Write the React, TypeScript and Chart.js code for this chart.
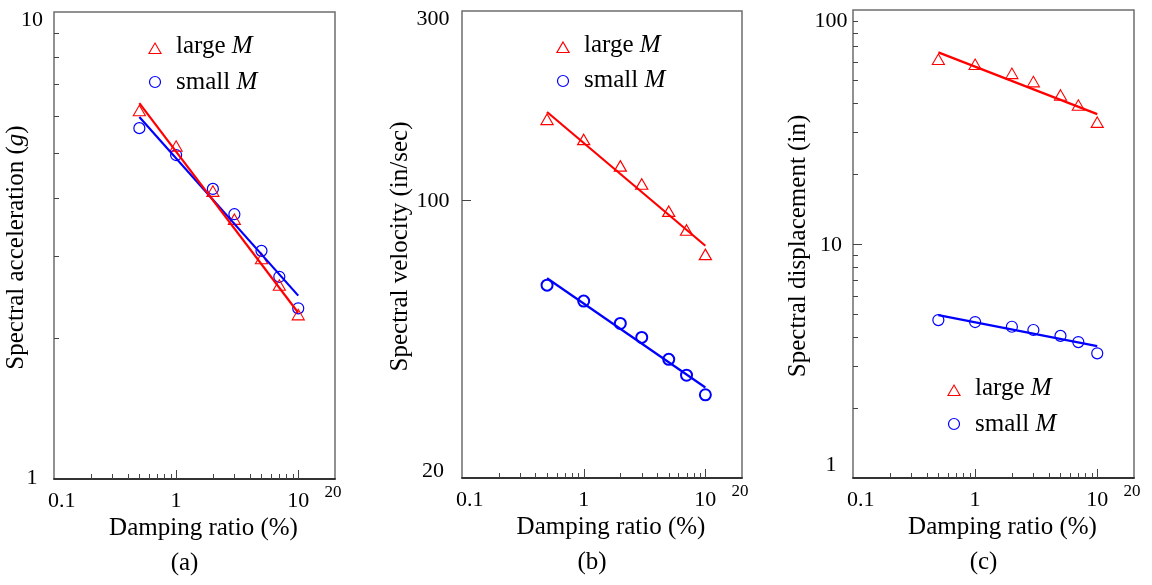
import React, { useEffect, useRef } from 'react';
import { Chart, registerables } from 'chart.js';

Chart.register(...registerables);

// ---------- data ----------
const dampingRatios = [0.5, 1, 2, 3, 5, 7, 10];
const fitRange = [0.5, 10];

const accLarge = [6.1, 5.12, 4.1, 3.57, 2.94, 2.58, 2.23];
const accSmall = [5.64, 4.94, 4.18, 3.69, 3.08, 2.71, 2.32];
const accLargeFit = [6.38, 2.27];
const accSmallFit = [5.96, 2.47];

const velLarge = [158.5, 141, 121, 108.9, 93, 83.4, 72.4];
const velSmall = [61.2, 55.8, 49, 45.2, 39.8, 36.3, 32.4];
const velLargeFit = [167, 76.9];
const velSmallFit = [63.7, 33.8];

const dispLarge = [60.5, 57.6, 52.7, 48.6, 42.6, 38.6, 32.6];
const dispSmall = [4.73, 4.64, 4.43, 4.29, 4.05, 3.81, 3.41];
const dispLargeFit = [65.9, 35.9];
const dispSmallFit = [4.97, 3.66];

const xTickValues = [0.1, 1, 10];
const xTickLabels = ['0.1', '1', '10'];
const xEndValue = 20;
const xEndLabel = '20';
const xMajorTicks = [1, 10];
const xMinorTicks = [0.2, 0.3, 0.4, 0.5, 0.6, 0.7, 0.8, 0.9, 2, 3, 4, 5, 6, 7, 8, 9];

const accYTickValues = [1, 10];
const accYTickLabels = ['1', '10'];
const accYMajor: number[] = [];
const accYMinor = [2, 3, 4, 5, 6, 7, 8, 9];

const velYTickValues = [20, 100, 300];
const velYTickLabels = ['20', '100', '300'];
const velYMajor = [100];
const velYMinor: number[] = [];

const dispYTickValues = [1, 10, 100];
const dispYTickLabels = ['1', '10', '100'];
const dispYMajor = [10];
const dispYMinor = [2, 3, 4, 5, 6, 7, 8, 9, 20, 30, 40, 50, 60, 70, 80, 90];

const legendNames = ['large ', 'small '];
const legendVar = 'M';
const xTitle = 'Damping ratio (%)';
const panelLabels = ['(a)', '(b)', '(c)'];

// ---------- styling ----------
const FAMILY = 'Liberation Serif';
const FONT = `"${FAMILY}", "DejaVu Serif", serif`;
const RED = '#ff0000';
const BLUE = '#0000ff';
const TEXT = '#000';

type Seg = { t: string; i: boolean };

const panels = [
  {
    label: panelLabels[0],
    yMin: 1, yMax: 10,
    yTitle: [{ t: 'Spectral acceleration (', i: false }, { t: 'g', i: true }, { t: ')', i: false }] as Seg[],
    large: accLarge, small: accSmall, largeFit: accLargeFit, smallFit: accSmallFit,
    yTickValues: accYTickValues, yTickLabels: accYTickLabels, yMajor: accYMajor, yMinor: accYMinor,
    pad: { left: 54, right: 49, top: 12, bottom: 106 },
    yLabelDx: 22, yInsetTop: 7, yInsetBottom: 2, yTitleDx: 31,
    legendTop: [38, 70], legendTextTop: [41, 77],
    circleWidth: 1.2, triWidth: 1.1,
  },
  {
    label: panelLabels[1],
    yMin: 20, yMax: 300,
    yTitle: [{ t: 'Spectral velocity (in/sec)', i: false }] as Seg[],
    large: velLarge, small: velSmall, largeFit: velLargeFit, smallFit: velSmallFit,
    yTickValues: velYTickValues, yTickLabels: velYTickLabels, yMajor: velYMajor, yMinor: velYMinor,
    pad: { left: 78, right: 26, top: 11, bottom: 107 },
    yLabelDx: 29, yInsetTop: 7, yInsetBottom: 8, yTitleDx: 55,
    legendTop: [38, 70], legendTextTop: [41, 76],
    circleWidth: 2, triWidth: 1.2,
  },
  {
    label: panelLabels[2],
    yMin: 1, yMax: 100,
    yTitle: [{ t: 'Spectral displacement (in)', i: false }] as Seg[],
    large: dispLarge, small: dispSmall, largeFit: dispLargeFit, smallFit: dispSmallFit,
    yTickValues: dispYTickValues, yTickLabels: dispYTickLabels, yMajor: dispYMajor, yMinor: dispYMinor,
    pad: { left: 85, right: 18, top: 10, bottom: 107 },
    yLabelDx: 22, yInsetTop: 10, yInsetBottom: 14, yTitleDx: 48,
    legendTop: [382, 414], legendTextTop: [385, 421],
    circleWidth: 1.2, triWidth: 1.1,
  },
];

function drawTriangle(ctx: CanvasRenderingContext2D, x: number, y: number, r: number) {
  ctx.beginPath();
  ctx.moveTo(x, y - r);
  ctx.lineTo(x + r * 0.866, y + r * 0.5);
  ctx.lineTo(x - r * 0.866, y + r * 0.5);
  ctx.closePath();
  ctx.stroke();
}

function makeDecor(cfg: any) {
  return {
    id: 'panelDecor',
    afterDraw(chart: any) {
      const ctx: CanvasRenderingContext2D = chart.ctx;
      const xs = chart.scales.x;
      const ys = chart.scales.y;
      const { left, right, top, bottom } = chart.chartArea;
      ctx.save();

      // frame
      ctx.lineWidth = 1.5;
      ctx.strokeStyle = '#6e6e6e';
      ctx.beginPath();
      ctx.moveTo(left, bottom);
      ctx.lineTo(left, top);
      ctx.lineTo(right, top);
      ctx.lineTo(right, bottom);
      ctx.stroke();
      ctx.strokeStyle = '#333';
      ctx.lineWidth = 1.8;
      ctx.beginPath();
      ctx.moveTo(left - 0.75, bottom);
      ctx.lineTo(right + 0.75, bottom);
      ctx.stroke();

      // inward tick marks
      ctx.strokeStyle = '#444';
      ctx.lineWidth = 1;
      const seg = (x1: number, y1: number, x2: number, y2: number) => {
        ctx.beginPath();
        ctx.moveTo(x1, y1);
        ctx.lineTo(x2, y2);
        ctx.stroke();
      };
      xMajorTicks.forEach((v) => { const p = Math.round(xs.getPixelForValue(v)) + 0.5; seg(p, bottom, p, bottom - 9); });
      xMinorTicks.forEach((v) => { const p = Math.round(xs.getPixelForValue(v)) + 0.5; seg(p, bottom, p, bottom - 5); });
      cfg.yMajor.forEach((v: number) => { const p = Math.round(ys.getPixelForValue(v)) + 0.5; seg(left, p, left + 9, p); });
      cfg.yMinor.forEach((v: number) => { const p = Math.round(ys.getPixelForValue(v)) + 0.5; seg(left, p, left + 5, p); });

      // x tick labels
      ctx.fillStyle = TEXT;
      ctx.font = `22px ${FONT}`;
      ctx.textAlign = 'center';
      ctx.textBaseline = 'alphabetic';
      xTickValues.forEach((v, i) => {
        const lbl = xTickLabels[i];
        const w = ctx.measureText(lbl).width;
        let px = xs.getPixelForValue(v);
        px = Math.max(px, left - 6 + w / 2);
        ctx.fillText(lbl, px, bottom + 28);
      });
      ctx.font = `17px ${FONT}`;
      ctx.fillText(xEndLabel, xs.getPixelForValue(xEndValue) - 2, bottom + 18);

      // y tick labels
      ctx.font = `22px ${FONT}`;
      cfg.yTickValues.forEach((v: number, i: number) => {
        let py = ys.getPixelForValue(v);
        py = Math.min(Math.max(py, top + cfg.yInsetTop), bottom - cfg.yInsetBottom);
        ctx.fillText(cfg.yTickLabels[i], left - cfg.yLabelDx, py + 7);
      });

      // x title
      ctx.font = `25px ${FONT}`;
      const cx = (left + right) / 2;
      ctx.fillText(xTitle, cx + 9, bottom + 56);

      // panel label
      ctx.fillText(cfg.label, cx - 10, bottom + 91);

      // y title (rotated, mixed italics)
      ctx.save();
      ctx.translate(left - cfg.yTitleDx, (top + bottom) / 2 + 2);
      ctx.rotate(-Math.PI / 2);
      ctx.textAlign = 'left';
      const fonts = cfg.yTitle.map((s: Seg) => (s.i ? `italic 25px ${FONT}` : `25px ${FONT}`));
      let total = 0;
      cfg.yTitle.forEach((s: Seg, k: number) => { ctx.font = fonts[k]; total += ctx.measureText(s.t).width; });
      let xx = -total / 2;
      cfg.yTitle.forEach((s: Seg, k: number) => { ctx.font = fonts[k]; ctx.fillText(s.t, xx, 0); xx += ctx.measureText(s.t).width; });
      ctx.restore();

      // legend
      ctx.textAlign = 'left';
      const mx = left + 101;
      const tx = left + 122;
      ctx.strokeStyle = RED;
      ctx.lineWidth = cfg.triWidth;
      drawTriangle(ctx, mx, top + cfg.legendTop[0], 7);
      ctx.strokeStyle = BLUE;
      ctx.lineWidth = 1.2;
      ctx.beginPath();
      ctx.arc(mx, top + cfg.legendTop[1], 5.5, 0, Math.PI * 2);
      ctx.stroke();
      legendNames.forEach((name, k) => {
        const ty = top + cfg.legendTextTop[k];
        ctx.font = `25px ${FONT}`;
        ctx.fillStyle = TEXT;
        ctx.fillText(name, tx, ty);
        const w = ctx.measureText(name).width;
        ctx.font = `italic 25px ${FONT}`;
        ctx.fillText(legendVar, tx + w, ty);
      });

      ctx.restore();
    },
  };
}

function Panel({ cfg, offsetX }: { cfg: any; offsetX: number }) {
  const ref = useRef<HTMLCanvasElement | null>(null);
  useEffect(() => {
    if (!ref.current) return;
    let alive = true;
    const pts = (xs: number[], ys: number[]) => xs.map((x, i) => ({ x, y: ys[i] }));
    const chart = new Chart(ref.current, {
      type: 'scatter',
      data: {
        datasets: [
          {
            label: 'large fit',
            data: pts(fitRange, cfg.largeFit),
            showLine: true,
            borderColor: RED,
            borderWidth: 2.2,
            pointRadius: 0,
            tension: 0,
          },
          {
            label: 'small fit',
            data: pts(fitRange, cfg.smallFit),
            showLine: true,
            borderColor: BLUE,
            borderWidth: 2.2,
            pointRadius: 0,
            tension: 0,
          },
          {
            label: 'large M',
            data: pts(dampingRatios, cfg.large),
            showLine: false,
            pointStyle: 'triangle',
            pointRadius: 7,
            pointBorderWidth: cfg.triWidth,
            borderColor: RED,
            backgroundColor: 'rgba(0,0,0,0)',
            pointBackgroundColor: 'rgba(0,0,0,0)',
          },
          {
            label: 'small M',
            data: pts(dampingRatios, cfg.small),
            showLine: false,
            pointStyle: 'circle',
            pointRadius: 5.5,
            pointBorderWidth: cfg.circleWidth,
            borderColor: BLUE,
            backgroundColor: 'rgba(0,0,0,0)',
            pointBackgroundColor: 'rgba(0,0,0,0)',
          },
        ],
      },
      options: {
        responsive: false,
        animation: false,
        devicePixelRatio: 1,
        layout: { padding: cfg.pad },
        plugins: { legend: { display: false }, tooltip: { enabled: false } },
        scales: {
          x: {
            type: 'logarithmic',
            min: 0.1,
            max: 20,
            ticks: { display: false },
            grid: { display: false },
            border: { display: false },
            afterFit: (s: any) => { s.height = 0; },
          },
          y: {
            type: 'logarithmic',
            min: cfg.yMin,
            max: cfg.yMax,
            ticks: { display: false },
            grid: { display: false },
            border: { display: false },
            afterFit: (s: any) => { s.width = 0; },
          },
        },
      } as any,
      plugins: [makeDecor(cfg)],
    });
    const fontsApi: any = (document as any).fonts;
    if (fontsApi && fontsApi.load) {
      Promise.all([
        fontsApi.load(`25px "${FAMILY}"`),
        fontsApi.load(`italic 25px "${FAMILY}"`),
        fontsApi.load(`22px "${FAMILY}"`),
      ])
        .catch(() => null)
        .then(() => { if (alive) chart.draw(); });
    }
    return () => { alive = false; chart.destroy(); };
  }, [cfg]);
  return (
    <canvas
      ref={ref}
      width={384}
      height={585}
      style={{ position: 'absolute', left: offsetX, top: 0, width: 384, height: 585 }}
    />
  );
}

export default function App() {
  return (
    <div style={{ position: 'absolute', left: 0, top: 0, width: 1152, height: 585, background: '#fff' }}>
      {panels.map((p, i) => (
        <Panel key={i} cfg={p} offsetX={i * 384} />
      ))}
    </div>
  );
}
